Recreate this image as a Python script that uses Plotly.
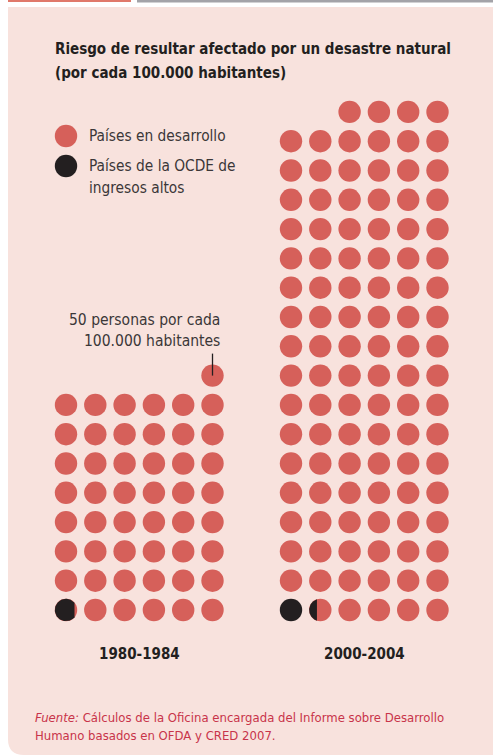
import numpy as np
import plotly.graph_objects as go

# ---------------- data ----------------
periods = ["1980-1984", "2000-2004"]
total_dots = [49, 106]          # dots per period (risk, per 100.000 inhabitants scale)
oecd_dots = [0.88, 1.35]        # share of those dots for high-income OECD countries
legend_labels = ["Países en desarrollo", "Países de la OCDE de", "ingresos altos"]
title_lines = ["Riesgo de resultar afectado por un desastre natural",
               "(por cada 100.000 habitantes)"]
note_lines = ["50 personas por cada", "100.000 habitantes"]
note_dot_index = 48
source_lines = ["<i>Fuente:</i> Cálculos de la Oficina encargada del Informe sobre Desarrollo",
                "Humano basados en OFDA y CRED 2007."]

# ---------------- layout constants ----------------
W, H = 493, 755
S = 29.3                 # px per grid unit
X0, Y0 = 66, 610         # pixel centre of first dot
GROUP_GAP = (291 - 66) / S
COLS = 6
R = 11.2 / S
RED = "#D6605A"
BLACK = "#231F20"
PANEL = "#F8E2DD"
TXT = "#3B3738"
FONT = "DejaVu Sans Condensed, Liberation Sans Narrow, Arial Narrow, sans-serif"


def px(x):
    return x / W


def py(y):
    return 1 - y / H


def positions(g, total):
    full_rows, rem = divmod(total, COLS)
    xs, ys = [], []
    for i in range(total):
        row, col = divmod(i, COLS)
        if row == full_rows:
            col = COLS - rem + col
        xs.append(g * GROUP_GAP + col)
        ys.append(row)
    return xs, ys


fig = go.Figure()
red_x, red_y, blk_x, blk_y = [], [], [], []
poly_traces = []
group_pos = {}
for g, (tot, oe) in enumerate(zip(total_dots, oecd_dots)):
    xs, ys = positions(g, tot)
    group_pos[g] = (xs, ys)
    nfull = int(np.floor(oe))
    frac = oe - nfull
    for i, (x, y) in enumerate(zip(xs, ys)):
        if i < nfull:
            blk_x.append(x); blk_y.append(y)
        else:
            red_x.append(x); red_y.append(y)
        if i == nfull and frac > 0:
            chord = -R + 2 * R * frac
            th = np.arccos(chord / R)
            t = np.linspace(th, 2 * np.pi - th, 80)
            poly_traces.append((x + R * np.cos(t), y + R * np.sin(t)))

msize = 2 * R * S
fig.add_trace(go.Scatter(x=red_x, y=red_y, mode="markers",
                         marker=dict(size=msize, color=RED, line=dict(width=0)),
                         hoverinfo="skip", showlegend=False))
fig.add_trace(go.Scatter(x=blk_x, y=blk_y, mode="markers",
                         marker=dict(size=msize, color=BLACK, line=dict(width=0)),
                         hoverinfo="skip", showlegend=False))
for (xx, yy) in poly_traces:
    fig.add_trace(go.Scatter(x=list(xx) + [xx[0]], y=list(yy) + [yy[0]], mode="lines",
                             fill="toself", fillcolor=BLACK, line=dict(width=0, color=BLACK),
                             hoverinfo="skip", showlegend=False))

# legend dots
leg_y = [(Y0 - 136) / S, (Y0 - 166) / S]
fig.add_trace(go.Scatter(x=[0, 0], y=leg_y, mode="markers",
                         marker=dict(size=msize, color=[RED, BLACK], line=dict(width=0)),
                         hoverinfo="skip", showlegend=False))

annotations = []
# title
for k, line in enumerate(title_lines):
    annotations.append(dict(x=px(53), y=py(49 + 24 * k), xref="paper", yref="paper",
                            text="<b>" + line + "</b>", showarrow=False, xanchor="left",
                            yanchor="middle", font=dict(family=FONT, size=15, color=BLACK)))
# legend text
for line, yy in zip(legend_labels, [136, 166, 188]):
    annotations.append(dict(x=px(87), y=py(yy), xref="paper", yref="paper", text=line,
                            showarrow=False, xanchor="left", yanchor="middle",
                            font=dict(family=FONT, size=15.3, color=TXT)))
# note
for line, yy in zip(note_lines, [320, 341]):
    annotations.append(dict(x=px(222), y=py(yy), xref="paper", yref="paper", text=line,
                            showarrow=False, xanchor="right", yanchor="middle",
                            font=dict(family=FONT, size=15.5, color=TXT)))
# group labels
for g, p in enumerate(periods):
    annotations.append(dict(x=g * GROUP_GAP + (COLS - 1) / 2, y=py(654), xref="x", yref="paper",
                            text="<b>" + p + "</b>", showarrow=False, xanchor="center",
                            yanchor="middle", font=dict(family=FONT, size=15, color=BLACK)))
# source
for line, yy in zip(source_lines, [717, 735]):
    annotations.append(dict(x=px(33), y=py(yy), xref="paper", yref="paper", text=line,
                            showarrow=False, xanchor="left", yanchor="middle",
                            font=dict(family=FONT, size=13, color="#C8344A")))

# leader line to the note dot
nx, ny = group_pos[0][0][note_dot_index], group_pos[0][1][note_dot_index]
shapes = [
    dict(type="path", xref="paper", yref="paper", layer="below",
         path=f"M {px(8)},{py(7)} L 1,{py(7)} L 1,0 L {px(24)},0 "
              f"Q {px(8)},0 {px(8)},{py(739)} Z",
         fillcolor=PANEL, line=dict(width=0)),
    dict(type="rect", xref="paper", yref="paper", x0=px(8), x1=px(131), y0=py(0), y1=py(2),
         fillcolor="#E0796B", line=dict(width=0)),
    dict(type="rect", xref="paper", yref="paper", x0=px(137), x1=1, y0=py(0), y1=py(2.5),
         fillcolor="#A3A3A8", line=dict(width=0)),
    dict(type="line", xref="x", yref="y", x0=nx, x1=nx, y0=ny, y1=ny + 22 / S,
         line=dict(color=BLACK, width=1.3), layer="above"),
]

fig.update_layout(
    width=W, height=H, autosize=False,
    margin=dict(l=0, r=0, t=0, b=0, pad=0),
    paper_bgcolor="white", plot_bgcolor="rgba(0,0,0,0)",
    xaxis=dict(range=[-X0 / S, (W - X0) / S], visible=False, fixedrange=True),
    yaxis=dict(range=[-(H - Y0) / S, Y0 / S], visible=False, fixedrange=True),
    annotations=annotations, shapes=shapes, showlegend=False,
)
fig.write_html("out.html", config={"displayModeBar": False},
               post_script="document.body.style.margin='0';"
                           "document.body.style.overflow='hidden';")
